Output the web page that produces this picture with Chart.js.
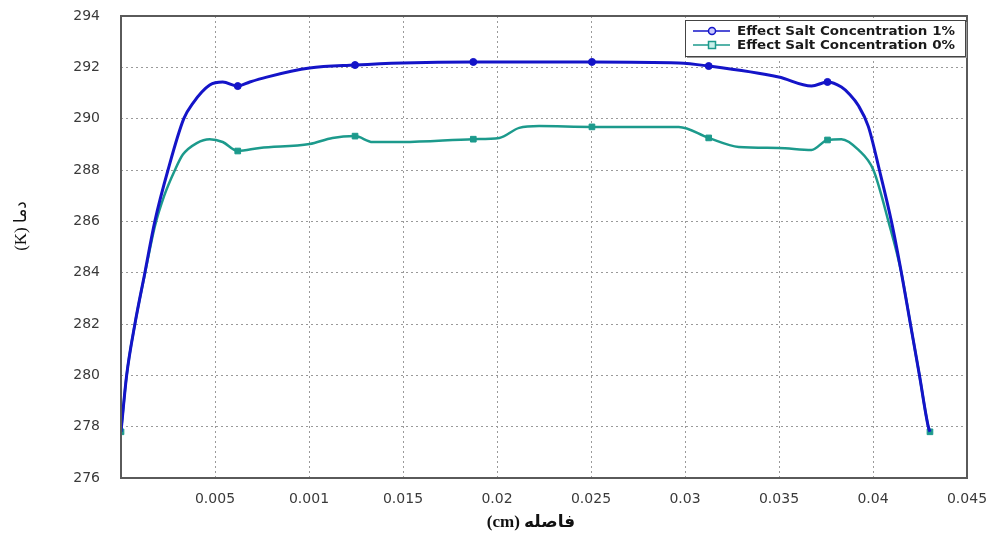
<!DOCTYPE html>
<html>
<head>
<meta charset="utf-8">
<script src="https://cdn.jsdelivr.net/npm/chart.js@4.4.1/dist/chart.umd.min.js"></script>
<style>
  html, body { margin: 0; padding: 0; background: #fff; }
  #wrap { width: 988px; height: 540px; position: relative; }
</style>
</head>
<body>
<div id="wrap"><canvas id="c" width="988" height="540"></canvas></div>
<script>
// ---- data ----
const seriesLabels = ['Effect Salt Concentration 1%', 'Effect Salt Concentration 0%'];

const xSalt1 = [0, 0.0003, 0.00074, 0.00127, 0.0018, 0.0025, 0.00334, 0.00382, 0.00472, 0.00541,
  0.00621, 0.00685, 0.00775, 0.01003, 0.01245, 0.01497, 0.01874, 0.02505, 0.02967, 0.03126,
  0.03498, 0.03673, 0.03758, 0.03832, 0.03875, 0.03923, 0.03975, 0.04034, 0.04098, 0.04151,
  0.04199, 0.04247, 0.04294, 0.04303];
const ySalt1 = [277.8, 280.0, 282.0, 284.0, 286.0, 288.0, 290.0, 290.6, 291.31, 291.43,
  291.27, 291.43, 291.62, 291.97, 292.09, 292.17, 292.21, 292.21, 292.17, 292.05,
  291.62, 291.27, 291.43, 291.23, 290.95, 290.5, 289.7, 288.0, 286.0, 284.0,
  282.0, 280.0, 278.0, 277.8];
const markersSalt1 = [10, 14, 16, 17, 19, 22];

const xSalt0 = [0, 0.0003, 0.00074, 0.00127, 0.0018, 0.0023, 0.00287, 0.00329, 0.00403, 0.00472,
  0.00541, 0.00621, 0.00738, 0.01003, 0.01125, 0.01245, 0.01338, 0.01497, 0.01874, 0.02012,
  0.02118, 0.02224, 0.02505, 0.02967, 0.03126, 0.03286, 0.03498, 0.03673, 0.03758, 0.03832,
  0.03923, 0.04002, 0.04082, 0.04151, 0.04199, 0.04247, 0.04294, 0.04303];
const ySalt0 = [277.8, 280.0, 282.0, 283.95, 285.8, 287.0, 288.0, 288.6, 289.05, 289.2,
  289.09, 288.74, 288.86, 289.01, 289.25, 289.32, 289.09, 289.09, 289.2, 289.25,
  289.64, 289.71, 289.68, 289.68, 289.25, 288.9, 288.86, 288.78, 289.17, 289.2,
  288.78, 288.0, 286.0, 284.0, 282.0, 280.0, 278.0, 277.8];
const markersSalt0 = [0, 11, 15, 18, 22, 24, 28, 37];

const xTickLabels = ['', '0.005', '0.001', '0.015', '0.02', '0.025', '0.03', '0.035', '0.04', '0.045'];
const yTickLabels = ['276', '278', '280', '282', '284', '286', '288', '290', '292', '294'];
const xTitle = '(cm) فاصله';
const yTitle = '(K) دما';

// ---- build ----
const pts = (xs, ys) => xs.map((x, i) => ({ x: x, y: ys[i] }));
const BLUE = '#1414c8';
const TEAL = '#1c9a8c';

const framePlugin = {
  id: 'frame',
  afterDraw(chart) {
    const { ctx, chartArea: a } = chart;
    ctx.save();
    ctx.strokeStyle = '#5a5a5a';
    ctx.lineWidth = 2;
    ctx.strokeRect(a.left, a.top, a.right - a.left, a.bottom - a.top);
    // axis titles
    ctx.fillStyle = '#111';
    ctx.textAlign = 'center';
    ctx.textBaseline = 'middle';
    ctx.font = 'bold 17px "Liberation Serif", "DejaVu Sans", serif';
    ctx.fillText(xTitle, 531, 523);
    ctx.save();
    ctx.translate(22, 226);
    ctx.rotate(-Math.PI / 2);
    ctx.font = '17px "Liberation Serif", "DejaVu Sans", serif';
    ctx.fillText(yTitle, 0, 0);
    ctx.restore();
    ctx.restore();
  }
};

const legendPlugin = {
  id: 'boxLegend',
  afterDraw(chart) {
    const ctx = chart.ctx;
    const bx = 685, by = 20, bw = 280, bh = 36;
    ctx.save();
    ctx.fillStyle = '#ffffff';
    ctx.fillRect(bx, by, bw, bh);
    ctx.strokeStyle = '#9a9a9a';
    ctx.lineWidth = 2;
    ctx.beginPath();
    ctx.moveTo(bx + bw + 1, by + 2); ctx.lineTo(bx + bw + 1, by + bh + 1); ctx.lineTo(bx + 2, by + bh + 1);
    ctx.stroke();
    ctx.strokeStyle = '#444';
    ctx.lineWidth = 1;
    ctx.strokeRect(bx + 0.5, by + 0.5, bw, bh);
    chart.data.datasets.forEach((ds, i) => {
      const y = by + 11 + i * 14;
      ctx.strokeStyle = ds.borderColor;
      ctx.lineWidth = 1.5;
      ctx.beginPath(); ctx.moveTo(bx + 8, y); ctx.lineTo(bx + 45, y); ctx.stroke();
      ctx.fillStyle = i === 0 ? '#c8c8ff' : '#c8f0ea';
      if (i === 0) {
        ctx.beginPath(); ctx.arc(bx + 27, y, 3.5, 0, Math.PI * 2); ctx.fill(); ctx.stroke();
      } else {
        ctx.fillRect(bx + 23.5, y - 3.5, 7, 7); ctx.strokeRect(bx + 23.5, y - 3.5, 7, 7);
      }
      ctx.fillStyle = '#1a1a1a';
      ctx.font = 'bold 11px "DejaVu Sans", sans-serif';
      ctx.textBaseline = 'middle';
      const w = ctx.measureText(ds.label).width;
      const target = 218;
      ctx.save();
      ctx.translate(bx + 52, y + 0.5);
      ctx.scale(target / w, 1.05);
      ctx.fillText(ds.label, 0, 0);
      ctx.restore();
    });
    ctx.restore();
  }
};

new Chart(document.getElementById('c'), {
  type: 'scatter',
  data: {
    datasets: [
      {
        label: seriesLabels[0],
        data: pts(xSalt1, ySalt1),
        showLine: true,
        borderColor: BLUE,
        backgroundColor: BLUE,
        borderWidth: 3,
        cubicInterpolationMode: 'monotone',
        pointStyle: 'circle',
        pointRadius: (c) => markersSalt1.includes(c.dataIndex) ? 3.5 : 0,
        pointBorderWidth: 1,
        pointHoverRadius: 0
      },
      {
        label: seriesLabels[1],
        data: pts(xSalt0, ySalt0),
        showLine: true,
        borderColor: TEAL,
        backgroundColor: TEAL,
        borderWidth: 2.5,
        cubicInterpolationMode: 'monotone',
        pointStyle: 'rect',
        pointRadius: (c) => markersSalt0.includes(c.dataIndex) ? 4 : 0,
        pointBorderWidth: 1,
        pointHoverRadius: 0
      }
    ]
  },
  options: {
    responsive: false,
    animation: false,
    devicePixelRatio: 1,
    layout: { padding: { left: 0, right: 21, top: 16, bottom: 0 } },
    plugins: {
      legend: { display: false },
      tooltip: { enabled: false }
    },
    scales: {
      x: {
        type: 'linear',
        min: 0,
        max: 0.045,
        afterFit: (s) => { s.height = 62; s.paddingLeft = 0; s.paddingRight = 0; },
        grid: { color: '#9a9a9a', lineWidth: 1, drawTicks: false, tickLength: 0 },
        border: { display: false, dash: [2, 3] },
        ticks: {
          stepSize: 0.005,
          autoSkip: false,
          maxRotation: 0,
          padding: 13,
          color: '#3a3a3a',
          font: { family: '"DejaVu Sans", sans-serif', size: 14 },
          callback: (v, i) => xTickLabels[i] !== undefined ? xTickLabels[i] : ''
        },
        title: { display: false }
      },
      y: {
        type: 'linear',
        min: 276,
        max: 294,
        afterFit: (s) => { s.width = 121; s.paddingTop = 0; s.paddingBottom = 0; },
        grid: { color: '#9a9a9a', lineWidth: 1, drawTicks: false, tickLength: 0 },
        border: { display: false, dash: [2, 3] },
        ticks: {
          stepSize: 2,
          padding: 21,
          color: '#3a3a3a',
          font: { family: '"DejaVu Sans", sans-serif', size: 14 },
          callback: (v, i) => yTickLabels[i] !== undefined ? yTickLabels[i] : ''
        },
        title: { display: false }
      }
    }
  },
  plugins: [framePlugin, legendPlugin]
});
</script>
</body>
</html>
